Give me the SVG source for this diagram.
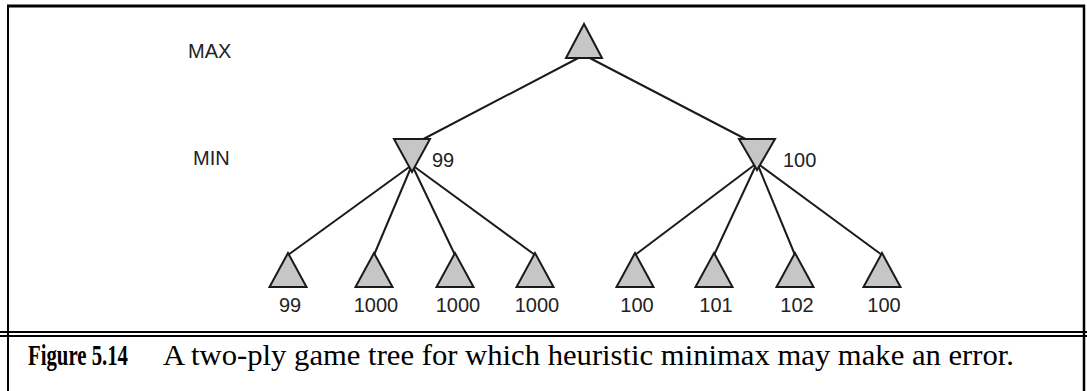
<svg xmlns="http://www.w3.org/2000/svg" width="1087" height="391" viewBox="0 0 1087 391">
  <style>
    .tri { fill: #c6c6c6; stroke: #1a1a1a; stroke-width: 2; stroke-linejoin: miter; }
    .edge { stroke: #1a1a1a; stroke-width: 2; fill: none; }
    .lbl { font-family: "Liberation Sans", Arial, sans-serif; font-size: 20px; fill: #222; }
    .num { font-family: "Liberation Sans", Arial, sans-serif; font-size: 20px; fill: #222; text-anchor: middle; }
    .cap { font-family: "Liberation Serif", "Times New Roman", serif; font-size: 30px; fill: #000; }
    .frame { stroke: #000; fill: none; }
  </style>
  <rect width="1087" height="391" fill="#fff"/>
  <g id="frame">
    <line class="frame" x1="7" y1="6" x2="1085" y2="6" stroke-width="3"/>
    <line class="frame" x1="8" y1="5" x2="8" y2="391" stroke-width="2"/>
    <line class="frame" x1="1084" y1="5" x2="1084" y2="391" stroke-width="2.5"/>
    <line class="frame" x1="0" y1="332" x2="1087" y2="332" stroke-width="2"/>
    <line class="frame" x1="0" y1="336" x2="1087" y2="336" stroke-width="2"/>
  </g>
  <g id="level-labels">
    <text class="lbl" x="188" y="58">MAX</text>
    <text class="lbl" x="193" y="165">MIN</text>
  </g>
  <g id="connectors">
    <line class="edge" x1="584" y1="55" x2="412" y2="145"/>
    <line class="edge" x1="584" y1="55" x2="757" y2="145"/>
    <line class="edge" x1="412" y1="165" x2="288" y2="255"/>
    <line class="edge" x1="412" y1="165" x2="374" y2="255"/>
    <line class="edge" x1="412" y1="165" x2="455" y2="255"/>
    <line class="edge" x1="412" y1="165" x2="535" y2="255"/>
    <line class="edge" x1="757" y1="163" x2="635" y2="255"/>
    <line class="edge" x1="757" y1="163" x2="714" y2="255"/>
    <line class="edge" x1="757" y1="163" x2="795" y2="255"/>
    <line class="edge" x1="757" y1="163" x2="882" y2="255"/>
  </g>
  <g id="max-root">
    <polygon class="tri" points="584,24 566,58 602,58"/>
  </g>
  <g id="min-left">
    <polygon class="tri" points="394,139 430,139 412,172"/>
    <text class="lbl" x="432" y="167">99</text>
  </g>
  <g id="min-right">
    <polygon class="tri" points="739,139 775,139 757,170"/>
    <text class="lbl" x="783" y="167">100</text>
  </g>
  <g id="leaf-1"><polygon class="tri" points="288,253 269.5,287 306.5,287"/><text class="num" x="290" y="312">99</text></g>
  <g id="leaf-2"><polygon class="tri" points="374,253 355.5,287 392.5,287"/><text class="num" x="376" y="312">1000</text></g>
  <g id="leaf-3"><polygon class="tri" points="455,253 436.5,287 473.5,287"/><text class="num" x="458" y="312">1000</text></g>
  <g id="leaf-4"><polygon class="tri" points="535,253 516.5,287 553.5,287"/><text class="num" x="537" y="312">1000</text></g>
  <g id="leaf-5"><polygon class="tri" points="635,253 616.5,287 653.5,287"/><text class="num" x="637" y="312">100</text></g>
  <g id="leaf-6"><polygon class="tri" points="714,253 695.5,287 732.5,287"/><text class="num" x="716" y="312">101</text></g>
  <g id="leaf-7"><polygon class="tri" points="795,253 776.5,287 813.5,287"/><text class="num" x="797" y="312">102</text></g>
  <g id="leaf-8"><polygon class="tri" points="882,253 863.5,287 900.5,287"/><text class="num" x="884" y="312">100</text></g>
  <g id="caption">
    <text class="cap" x="28" y="365" font-weight="bold" textLength="100" lengthAdjust="spacingAndGlyphs">Figure 5.14</text>
    <text class="cap" x="163" y="365" textLength="851" lengthAdjust="spacingAndGlyphs">A two-ply game tree for which heuristic minimax may make an error.</text>
  </g>
</svg>
